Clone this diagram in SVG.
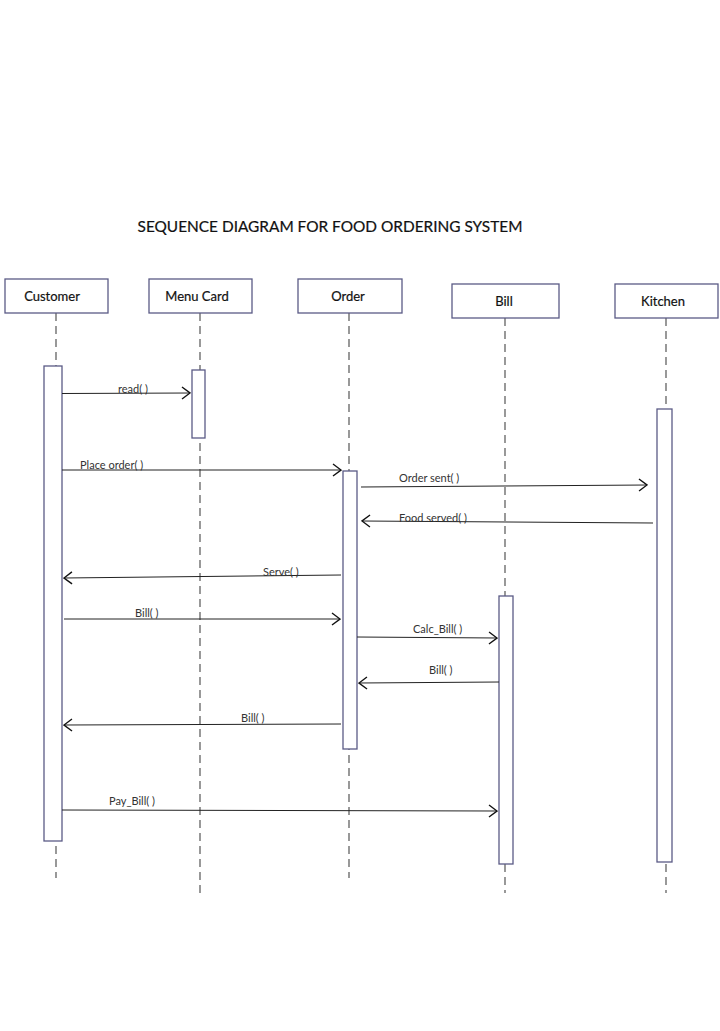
<svg xmlns="http://www.w3.org/2000/svg" width="720" height="1031" viewBox="0 0 720 1031">
<style>
.box{fill:#fff;stroke:#5b5b86;stroke-width:1.3}
.act{fill:#fff;stroke:#5b5b86;stroke-width:1.3}
.life{stroke:#555;stroke-width:1.2;stroke-dasharray:8,5;fill:none}
.nl{font-family:Lato,"Open Sans",sans-serif;font-size:13px;fill:#111;stroke:#111;stroke-width:0.2;text-anchor:middle}
.msg{stroke:#222;stroke-width:1;fill:none}
.ml{font-family:Lato,"Open Sans",sans-serif;font-size:11px;fill:#333}
.title{font-family:Lato,"Open Sans",sans-serif;font-size:15.4px;fill:#111;stroke:#111;stroke-width:0.2;text-anchor:middle}
</style>
<defs>
<marker id="arr" viewBox="0 0 10 14" refX="9" refY="7" markerWidth="10" markerHeight="14" markerUnits="userSpaceOnUse" orient="auto">
<path d="M1,1 L9,7 L1,13" fill="none" stroke="#111" stroke-width="1.4"/>
</marker>
</defs>
<rect width="720" height="1031" fill="#fff"/>
<text class="title" x="330" y="232">SEQUENCE DIAGRAM FOR FOOD ORDERING SYSTEM</text>

<g id="lifelines">
<line class="life" x1="56" y1="313" x2="56" y2="878"/>
<line class="life" x1="200" y1="313" x2="200" y2="893"/>
<line class="life" x1="349" y1="313" x2="349" y2="878"/>
<line class="life" x1="505" y1="318" x2="505" y2="893"/>
<line class="life" x1="666" y1="318" x2="666" y2="893"/>
</g>

<g id="customer">
<rect class="box" x="5" y="279" width="103" height="34"/>
<text class="nl" x="52" y="301">Customer</text>
<rect class="act" x="44" y="366" width="18" height="475"/>
</g>
<g id="menucard">
<rect class="box" x="149" y="279" width="103" height="34"/>
<text class="nl" x="197" y="301">Menu Card</text>
<rect class="act" x="192" y="370" width="13" height="68"/>
</g>
<g id="order">
<rect class="box" x="298" y="279" width="104" height="34"/>
<text class="nl" x="348" y="301">Order</text>
<rect class="act" x="343" y="471" width="14" height="278"/>
</g>
<g id="bill">
<rect class="box" x="452" y="284" width="107" height="34"/>
<text class="nl" x="504" y="306">Bill</text>
<rect class="act" x="499" y="596" width="14" height="268"/>
</g>
<g id="kitchen">
<rect class="box" x="615" y="284" width="103" height="34"/>
<text class="nl" x="663" y="306">Kitchen</text>
<rect class="act" x="657" y="409" width="15" height="453"/>
</g>

<g id="connectors">
<line class="msg" x1="62" y1="393.5" x2="190" y2="393" marker-end="url(#arr)"/>
<text class="ml" x="118" y="393">read( )</text>
<line class="msg" x1="62" y1="470" x2="341" y2="470" marker-end="url(#arr)"/>
<text class="ml" x="80" y="469">Place order( )</text>
<line class="msg" x1="361" y1="487" x2="647" y2="485" marker-end="url(#arr)"/>
<text class="ml" x="399" y="482">Order sent( )</text>
<line class="msg" x1="653" y1="523" x2="362" y2="521" marker-end="url(#arr)"/>
<text class="ml" x="399" y="522">Food served( )</text>
<line class="msg" x1="341" y1="575" x2="64" y2="578" marker-end="url(#arr)"/>
<text class="ml" x="263" y="576">Serve( )</text>
<line class="msg" x1="64" y1="619" x2="340" y2="619" marker-end="url(#arr)"/>
<text class="ml" x="135" y="617">Bill( )</text>
<line class="msg" x1="357" y1="637" x2="497" y2="638" marker-end="url(#arr)"/>
<text class="ml" x="413" y="633">Calc_Bill( )</text>
<line class="msg" x1="499" y1="682" x2="359" y2="683" marker-end="url(#arr)"/>
<text class="ml" x="429" y="674">Bill( )</text>
<line class="msg" x1="341" y1="724" x2="64" y2="725" marker-end="url(#arr)"/>
<text class="ml" x="241" y="722">Bill( )</text>
<line class="msg" x1="62" y1="810" x2="497" y2="811" marker-end="url(#arr)"/>
<text class="ml" x="109" y="805">Pay_Bill( )</text>
</g>
</svg>
